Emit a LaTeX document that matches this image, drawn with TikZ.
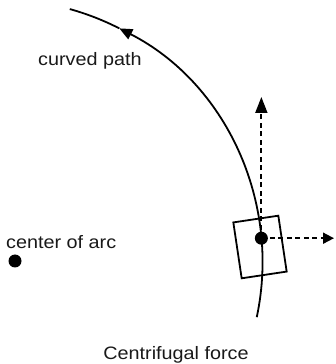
\documentclass[tikz,border=0pt]{standalone}
\usepackage{fontspec}
\setmainfont[FakeStretch=1.1]{Liberation Sans}
\usetikzlibrary{arrows.meta,calc}
\tikzset{
  lbl/.style={inner sep=0pt, text=black!90, font=\fontsize{18}{20}\selectfont},
  blackdot/.style={circle, fill=black, minimum size=13pt, inner sep=0pt},
  pathline/.style={line width=1.8pt},
  forcearrow/.style={line width=1.8pt, dash pattern=on 5pt off 3.5pt},
}
\begin{document}
\begin{tikzpicture}[x=1pt,y=1pt]
\useasboundingbox (0,0) rectangle (335,364);
\coordinate (C) at (-0.5,101.5);
% curved path
\draw[pathline, -{Triangle[length=13pt,width=11pt]}] (C) ++(-12:263) arc[start angle=-12, end angle=62.9, radius=263];
\draw[pathline] (C) ++(62.9:263) arc[start angle=62.9, end angle=74.5, radius=263];
% object box
\node[draw, line width=1.8pt, minimum width=45.5pt, minimum height=56.5pt, rotate=8.5, inner sep=0pt] (box) at (260,117) {};
% point on the path
\node[blackdot] (obj) at ($(C)+(5.3:263)$) {};
\coordinate (up) at (261,267);
\coordinate (right) at (334,126);
\draw[forcearrow, -{Triangle[length=16pt,width=12pt]}] (obj.center) -- (obj.center |- up);
\draw[forcearrow, -{Triangle[length=11pt,width=11pt]}] (obj.center) -- (right |- obj.center);
% center of arc
\node[blackdot] (ctr) at (15,103) {};
% labels
\node[lbl, anchor=base west] (lcurve) at (38,298) {curved path};
\node[lbl, anchor=base west] (lcenter) at (6,115) {center of arc};
\node[lbl, anchor=base] (ltitle) at (176,5) {Centrifugal force};
\end{tikzpicture}
\end{document}
